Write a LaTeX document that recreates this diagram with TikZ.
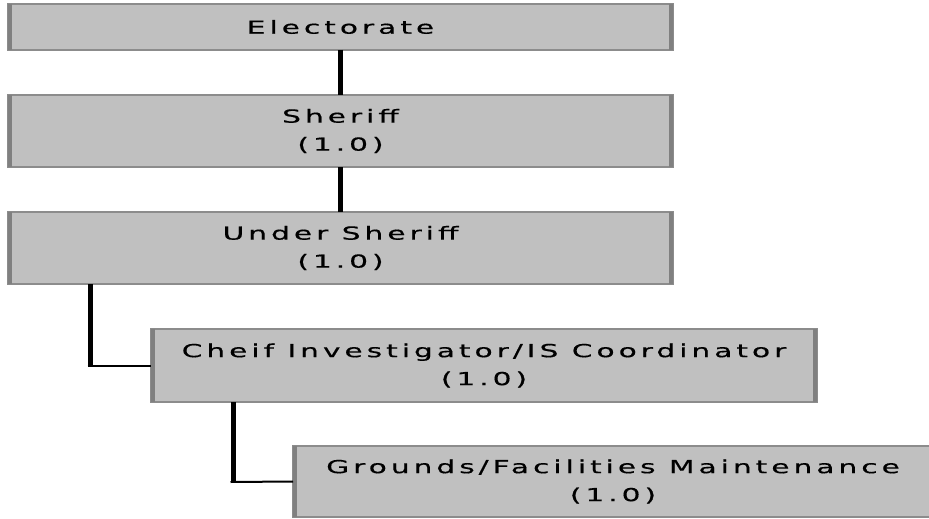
\documentclass[tikz,border=0pt]{standalone}
\usepackage{fontspec}
\setmainfont{DejaVu Sans}[FakeStretch=1.65,LetterSpace=22,FakeBold=0.5]
\definecolor{boxfill}{HTML}{C0C0C0}
\definecolor{boxedge}{HTML}{8C8C8C}
\definecolor{boxside}{HTML}{808080}
\begin{document}
\begin{tikzpicture}[x=1pt,y=-1pt,
  orgbox/.style={rectangle, fill=boxfill, draw=boxedge, line width=1.3pt,
    inner sep=0pt, outer sep=0pt, align=center,
    font=\fontsize{18}{28}\selectfont},
  vline/.style={line width=5pt, black},
  hline/.style={line width=2pt, black},
  sidebar/.style={line width=4pt, boxside}]
\useasboundingbox (0,0) rectangle (929,519);
\node[orgbox, minimum width=665pt, minimum height=46pt] (e) at (340.5,27) {Electorate};
\node[orgbox, minimum width=665pt, minimum height=72pt] (s) at (340.5,131) {Sheriff\\(1.0)};
\node[orgbox, minimum width=665pt, minimum height=72pt] (u) at (340.5,248) {Under Sheriff\\(1.0)};
\node[orgbox, minimum width=666pt, minimum height=73pt] (c) at (484,365.5) {Cheif Investigator/IS Coordinator\\(1.0)};
\node[orgbox, minimum width=640pt, minimum height=71pt] (g) at (613,481.5) {Grounds/Facilities Maintenance\\(1.0)};
\foreach \n in {e,s,u,c,g}{
  \draw[sidebar] ([xshift=2pt]\n.north west) -- ([xshift=2pt]\n.south west);
  \draw[sidebar] ([xshift=-2pt]\n.north east) -- ([xshift=-2pt]\n.south east);
}
\draw[vline] (e.south) -- (s.north);
\draw[vline] (s.south) -- (u.north);
\coordinate (uc) at (90,365.5);
\draw[vline] (u.south -| uc) -- (uc);
\draw[hline] ([xshift=-2.5pt]uc) -- (c.west);
\coordinate (cg) at (233,482);
\draw[vline] (c.south -| cg) -- (cg);
\draw[hline] ([xshift=-2.5pt]cg) -- (g.west);
\end{tikzpicture}
\end{document}
